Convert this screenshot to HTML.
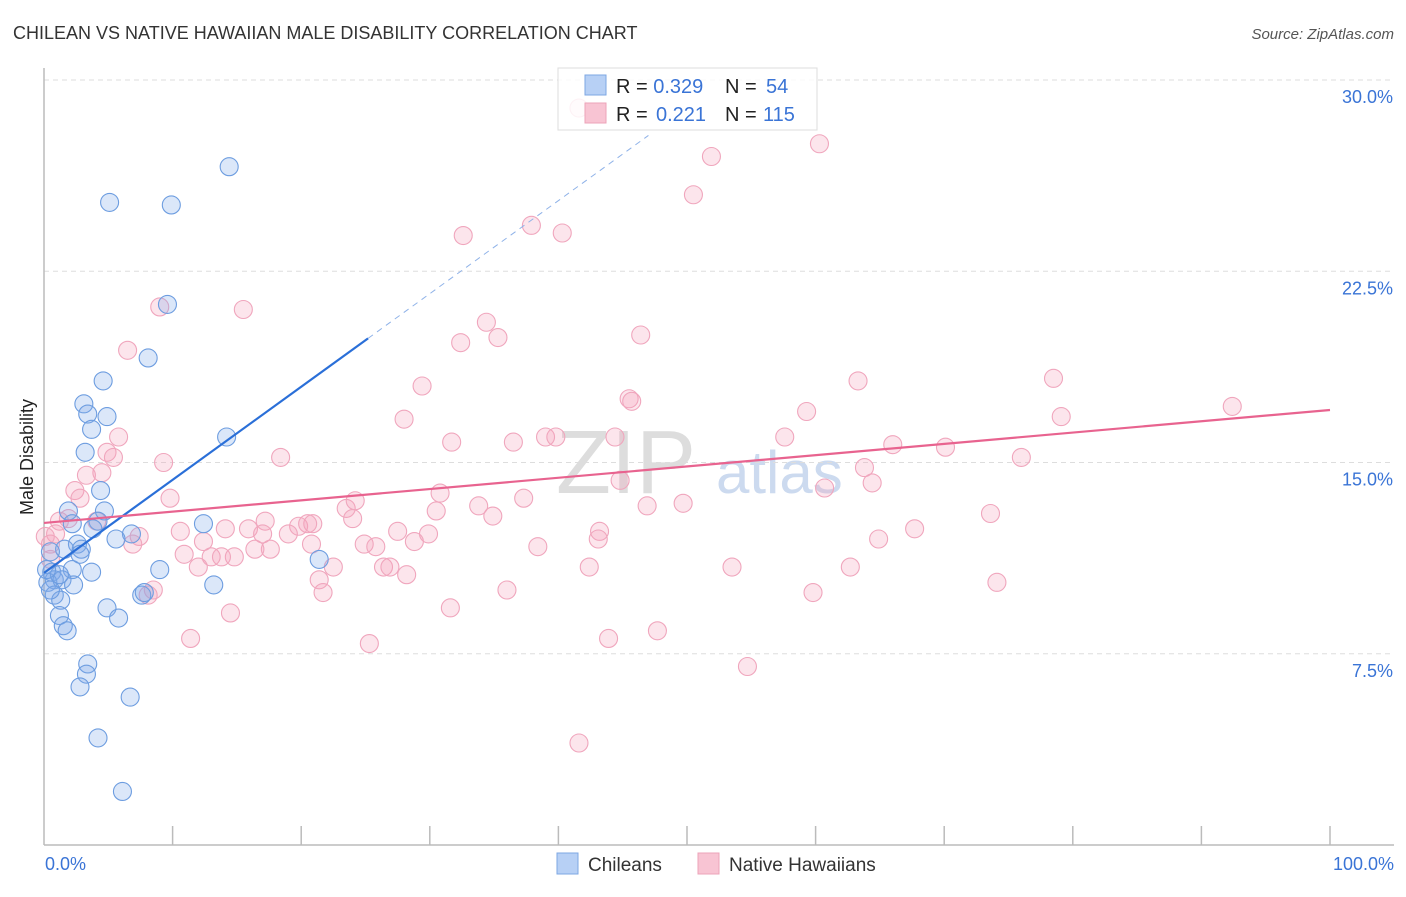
<!DOCTYPE html>
<html><head><meta charset="utf-8"><style>
body{margin:0;background:#fff;font-family:"Liberation Sans",sans-serif;}
svg text{font-family:"Liberation Sans",sans-serif;}
</style></head><body>
<svg id="chart" width="1406" height="892">
<text x="13" y="39" font-size="18" fill="#333">CHILEAN VS NATIVE HAWAIIAN MALE DISABILITY CORRELATION CHART</text>
<text x="1394" y="39" font-size="15" fill="#555" font-style="italic" text-anchor="end">Source: ZipAtlas.com</text>
<text x="33" y="457" font-size="18" fill="#222" text-anchor="middle" transform="rotate(-90 33 457)">Male Disability</text>
<text x="556" y="493" font-size="90" fill="#ddd" font-family="Liberation Serif">ZIP</text>
<text x="716" y="493" font-size="60" fill="#ccdaef">atlas</text>
<g id="grid"></g><g id="axes"></g><g id="pts"></g><g id="lines"></g>
<g>
<rect x="558" y="68" width="259" height="62" fill="rgba(255,255,255,0.85)" stroke="#ddd"/>
<rect x="585" y="75" width="21" height="20" fill="#b7d0f5" stroke="#7ea7e3"/>
<rect x="585" y="103" width="21" height="20" fill="#f8c4d3" stroke="#eda3b8"/>
<text x="616" y="93" font-size="20" fill="#222">R = <tspan fill="#3a74d6">0.329</tspan><tspan x="725">N = </tspan><tspan x="766" fill="#3a74d6">54</tspan></text>
<text x="616" y="121" font-size="20" fill="#222">R = <tspan x="656" fill="#3a74d6">0.221</tspan><tspan x="725">N = </tspan><tspan x="763" fill="#3a74d6">115</tspan></text>
</g>
<g>
<rect x="557" y="853" width="21" height="21" fill="#b7d0f5" stroke="#7ea7e3"/>
<text x="588" y="871" font-size="19" fill="#333">Chileans</text>
<rect x="698" y="853" width="21" height="21" fill="#f8c4d3" stroke="#eda3b8"/>
<text x="729" y="871" font-size="19" fill="#333">Native Hawaiians</text>
</g>
<text x="45" y="870" font-size="18" fill="#3a74d6">0.0%</text>
<text x="1394" y="870" font-size="18" fill="#3a74d6" text-anchor="end">100.0%</text>
</svg>
<script>
const yTicks=[30,22.5,15,7.5];
const yTickLabels=["30.0%","22.5%","15.0%","7.5%"];
const blueX=[14.4,5.1,9.9,9.6,8.1,4.6,3.1,3.4,4.9,3.7,3.2,14.2,4.4,1.9,4.7,4.2,2.2,3.8,6.8,5.6,2.6,1.6,2.9,0.5,12.4,21.4,9.0,3.7,0.6,2.2,0.8,0.3,1.4,2.3,7.6,0.8,1.3,4.9,5.8,1.2,1.5,1.8,3.4,3.3,2.8,6.7,4.2,6.1,13.2,2.8,1.2,0.2,0.5,7.8];
const blueY=[26.6,25.2,25.1,21.2,19.1,18.2,17.3,16.9,16.8,16.3,15.4,16.0,13.9,13.1,13.1,12.7,12.6,12.4,12.2,12.0,11.8,11.6,11.6,11.5,12.6,11.2,10.8,10.7,10.7,10.8,10.4,10.3,10.4,10.2,9.8,9.8,9.6,9.3,8.9,9.0,8.6,8.4,7.1,6.7,6.2,5.8,4.2,2.1,10.2,11.4,10.6,10.8,10.0,9.9];
const pinkX=[41.6,60.3,51.9,50.5,32.6,37.9,40.3,9.0,15.5,34.4,35.3,32.4,46.4,6.5,29.4,63.3,78.5,45.5,45.7,92.4,59.3,79.1,28.0,5.8,31.7,36.5,39.0,39.8,44.4,57.6,66.0,70.1,76.0,4.9,5.4,9.3,18.4,63.8,4.5,3.3,44.8,64.4,60.7,2.4,2.8,9.8,30.8,37.3,33.8,23.5,24.2,34.9,46.9,49.7,30.5,73.6,1.2,4.1,1.9,24.0,17.2,19.8,20.9,15.9,14.1,10.6,12.4,17.0,19.0,20.5,43.2,43.1,27.5,29.9,28.8,64.9,67.7,0.9,7.4,0.5,6.9,17.6,20.8,24.9,25.8,38.4,16.4,10.9,14.8,13.0,13.8,22.5,26.4,26.9,28.2,42.4,53.5,62.7,12.0,21.4,74.1,8.5,8.1,36.0,21.7,59.8,14.5,31.6,11.4,25.3,43.9,47.7,54.7,41.6,0.1,0.5];
const pinkY=[28.9,27.5,27.0,25.5,23.9,24.3,24.0,21.1,21.0,20.5,19.9,19.7,20.0,19.4,18.0,18.2,18.3,17.5,17.4,17.2,17.0,16.8,16.7,16.0,15.8,15.8,16.0,16.0,16.0,16.0,15.7,15.6,15.2,15.4,15.2,15.0,15.2,14.8,14.6,14.5,14.3,14.2,14.0,13.9,13.6,13.6,13.8,13.6,13.3,13.2,13.5,12.9,13.3,13.4,13.1,13.0,12.7,12.7,12.8,12.8,12.7,12.5,12.6,12.4,12.4,12.3,11.9,12.2,12.2,12.6,12.3,12.0,12.3,12.2,11.9,12.0,12.4,12.2,12.1,11.8,11.8,11.6,11.8,11.8,11.7,11.7,11.6,11.4,11.3,11.3,11.3,10.9,10.9,10.9,10.6,10.9,10.9,10.9,10.9,10.4,10.3,10.0,9.8,10.0,9.9,9.9,9.1,9.3,8.1,7.9,8.1,8.4,7.0,4.0,12.1,11.2];
const blueTrend=[10.67,0.365];
const pinkTrend=[12.63,0.0443];
const X0=44,X1=1330,Y0=845,PX=(X1-X0)/100,PY=25.5;
const sx=v=>X0+v*PX, sy=v=>Y0-v*PY;
const NS="http://www.w3.org/2000/svg";
function mk(tag,attrs,parent){const e=document.createElementNS(NS,tag);for(const k in attrs)e.setAttribute(k,attrs[k]);document.getElementById(parent).appendChild(e);return e;}
yTicks.forEach((t,i)=>{
 const g=mk('line',{x1:X0,x2:1394,y1:sy(t),y2:sy(t),stroke:'#ddd','stroke-dasharray':'5,4'},'grid');
 
 
 const l=mk('text',{x:1393,y:sy(t)+23,'font-size':18,fill:'#3a74d6','text-anchor':'end'},'grid');
 l.textContent=yTickLabels[i];
 
 
});
let a=mk('line',{x1:X0,x2:X0,y1:68,y2:Y0,stroke:'#bbb','stroke-width':1.5},'axes');


a=mk('line',{x1:X0,x2:1394,y1:Y0,y2:Y0,stroke:'#bbb','stroke-width':1.5},'axes');


for(let i=1;i<=10;i++){const t=mk('line',{x1:sx(i*10),x2:sx(i*10),y1:826,y2:Y0,stroke:'#bbb','stroke-width':1.5},'axes');
 
 }
pinkX.forEach((x,i)=>{const c=mk('circle',{cx:sx(x),cy:sy(pinkY[i]),r:9,fill:'rgba(243,160,188,0.28)',stroke:'#f0a6bd','stroke-width':1.1},'pts');
 
 });
blueX.forEach((x,i)=>{const c=mk('circle',{cx:sx(x),cy:sy(blueY[i]),r:9,fill:'rgba(125,168,235,0.28)',stroke:'#6d9de0','stroke-width':1.1},'pts');
 
 });
let L=mk('line',{x1:sx(0),y1:sy(blueTrend[0]),x2:sx(25.2),y2:sy(blueTrend[0]+blueTrend[1]*25.2),stroke:'#2a6fd8','stroke-width':2.2},'lines');


L=mk('line',{x1:sx(25.2),y1:sy(blueTrend[0]+blueTrend[1]*25.2),x2:sx(47),y2:sy(blueTrend[0]+blueTrend[1]*47),stroke:'#8fb2e8','stroke-width':1,'stroke-dasharray':'6,5'},'lines');


L=mk('line',{x1:sx(0),y1:sy(pinkTrend[0]),x2:sx(100),y2:sy(pinkTrend[0]+pinkTrend[1]*100),stroke:'#e8638f','stroke-width':2.2},'lines');


</script>
</body></html>
